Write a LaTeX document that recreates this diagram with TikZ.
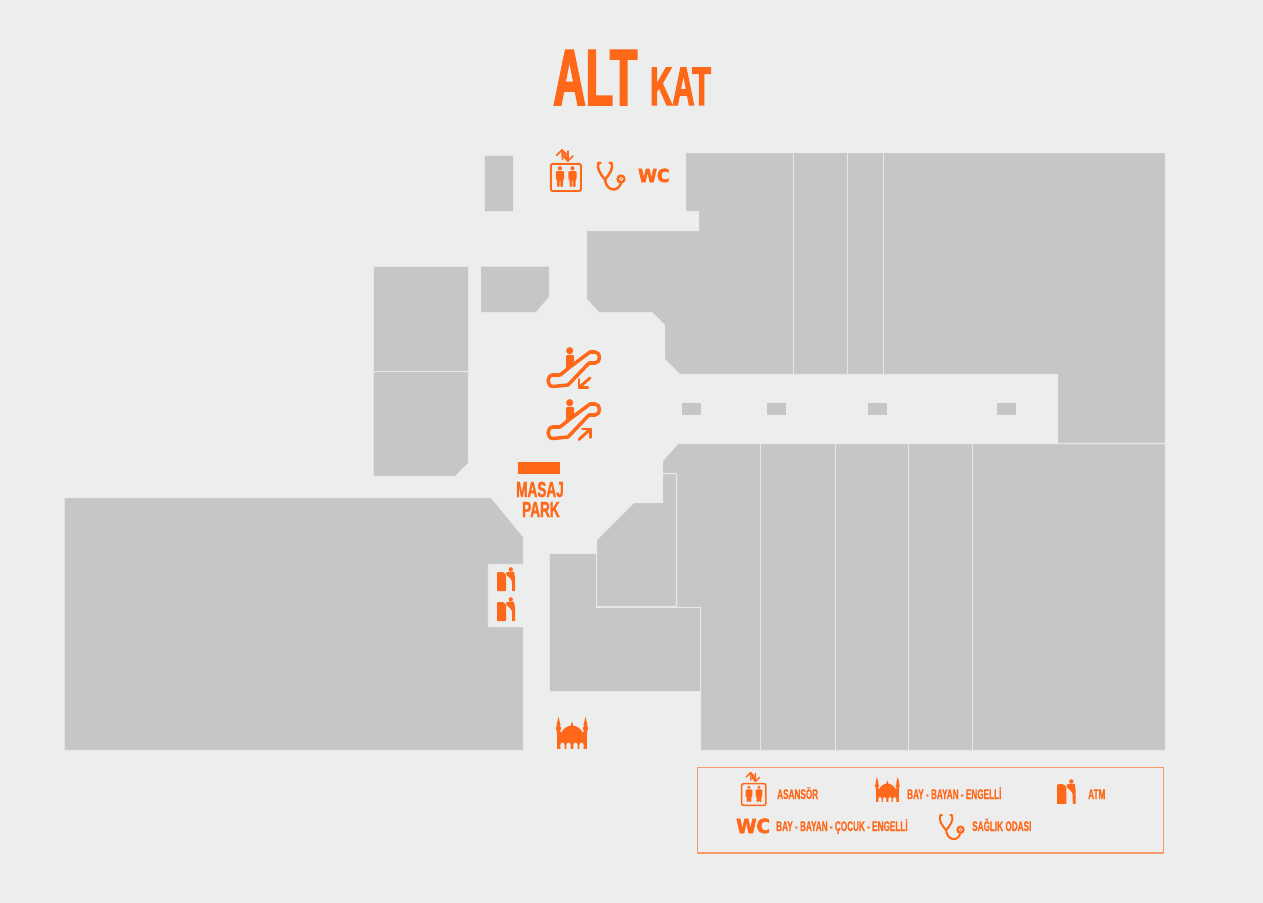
\documentclass[tikz,border=0pt]{standalone}
\usepackage{fontspec}
\setmainfont{Liberation Sans}
\newfontfamily\titlefont[FakeStretch=0.565,FakeBold=2]{Liberation Sans Bold}
\newfontfamily\masajfont[FakeStretch=0.62,FakeBold=1.2]{Liberation Sans Bold}
\newfontfamily\condfont[FakeStretch=0.587,FakeBold=0.5]{Liberation Sans Bold}
\newfontfamily\wcfont[FakeStretch=0.95,FakeBold=3]{DejaVu Sans Bold}
\definecolor{paper}{HTML}{ECEEED}
\definecolor{shop}{HTML}{C5C6C8}
\definecolor{seam}{HTML}{E6E7E8}
\definecolor{orng}{HTML}{FF6819}
\definecolor{legendfill}{HTML}{EDEDED}
\definecolor{legendline}{HTML}{F89A66}
\def\ls{1.3}
\tikzset{
  shopblock/.style={fill=shop,draw=seam,line width=0.3bp},
  seamline/.style={draw=seam,line width=0.9bp},
  kiosk/.style={fill=shop},
  iconline/.style={draw=orng,line width=\ls*#1 bp,line cap=round,line join=round},
  iconfill/.style={fill=orng},
  txt/.style={text=orng,inner sep=0pt,anchor=base west,font=#1},
  elevicon/.pic={
    \draw[iconline=1.5,rounded corners=2bp] (0.8,0.8) rectangle (31,28);
    \foreach \px in {10,22.5}{
      \fill[iconfill] (\px,5.3) circle (2.1);
      \fill[iconfill,rounded corners=1bp] (\px-4.2,8) -- (\px+4.2,8) -- (\px+4.2,16.5) -- (\px+3,16.5) -- (\px+3,24) -- (\px+0.3,24) -- (\px+0.3,17) -- (\px-0.3,17) -- (\px-0.3,24) -- (\px-3,24) -- (\px-3,16.5) -- (\px-4.2,16.5) -- cycle;
    }
    \draw[iconline=1.3] (6.5,-7.5) -- (12,-13) -- (17,-8);
    \draw[iconline=1.3] (12,-13) -- (12.5,-3.5);
    \draw[iconline=1.3] (12,-13) -- (18,-2) -- (18,-12);
    \draw[iconline=1.3] (13.5,-7) -- (18,-2) -- (23,-7);
  },
  stethicon/.pic={
    \draw[iconline=1.9] (4.5,1.8) -- (2.5,1.8) .. controls (0,7) and (5,14) .. (9,18.5) .. controls (13,14) and (18,7) .. (15.5,1.8) -- (13.5,1.8);
    \draw[iconline=1.9] (9,18.5) .. controls (10,30) and (22,32) .. (25,22);
    \fill[iconfill] (25,18) circle (4.7);
    \draw[draw=paper,line width=\ls*0.6 bp] (25,18) circle (1.7);
  },
  atmicon/.pic={
    \fill[iconfill,rounded corners=0.7bp] (0,5.5) -- (1,5) -- (6,5) -- (9,7.5) -- (9,24) -- (0,24) -- cycle;
    \fill[iconfill] (13.8,2.3) circle (2.1);
    \fill[iconfill,rounded corners=0.5bp] (9,5.5) -- (13,4.4) -- (17,4.8) -- (18,11) -- (18,24) -- (15.2,24) -- (14.9,14) -- (13,11) -- (9.8,8.5) -- cycle;
  },
  mosqueicon/.pic={
    \foreach \mx in {2.5,29.5}{
      \fill[iconfill] (\mx,0) -- (\mx+1.8,7) -- (\mx+1.8,10) -- (\mx+2.6,10) -- (\mx+2.6,12) -- (\mx+1.8,13) -- (\mx+1.8,16) -- (\mx-1.8,16) -- (\mx-1.8,13) -- (\mx-2.6,12) -- (\mx-2.6,10) -- (\mx-1.8,10) -- (\mx-1.8,7) -- cycle;
    }
    \fill[iconfill] (16,4.5) -- (17.5,9) -- (14.5,9) -- cycle;
    \fill[iconfill] (4.5,18) .. controls (6,12) and (11,8.5) .. (16,8.5) .. controls (21,8.5) and (26,12) .. (27.5,18) -- cycle;
    \fill[iconfill] (0.7,15) rectangle (31.3,32);
    \foreach \ax in {6.5,12.5,19.5,25.5}{
      \fill[paper] (\ax-2.2,32.2) -- (\ax-2.2,28.5) .. controls (\ax-2.2,26.5) and (\ax-1,26) .. (\ax,25.5) .. controls (\ax+1,26) and (\ax+2.2,26.5) .. (\ax+2.2,28.5) -- (\ax+2.2,32.2) -- cycle;
    }
  },
  escalbase/.pic={
    \draw[iconline=2.7] (23,20) -- (43,5) -- (48,5) .. controls (54,5) and (54,16) .. (48,16) -- (42,16) -- (21,38) -- (6,39.5) .. controls (-0.5,39.5) and (-0.5,28) .. (6,28) -- (13,28) -- cycle;
    \fill[iconfill] (22.7,3.7) circle (3.6);
    \fill[iconfill,rounded corners=1bp] (19,8) -- (27,8) -- (27,15) -- (19,22) -- cycle;
  },
  escaldown/.pic={
    \pic {escalbase};
    \draw[iconline=2.2] (43,31) -- (32,40.5);
    \draw[iconline=2.2] (32,32.5) -- (32,40.5) -- (41,40.5);
  },
  escalup/.pic={
    \pic {escalbase};
    \draw[iconline=2.2] (32,40.5) -- (43.5,30);
    \draw[iconline=2.2] (35.5,30) -- (43.5,30) -- (43.5,38.5);
  }
}
\newcommand{\tsize}[1]{\fontsize{#1}{#1}\selectfont}
\begin{document}
\begin{tikzpicture}[x=1bp,y=-1bp]
\useasboundingbox (0,0) rectangle (1263,903);
\fill[paper] (0,0) rectangle (1263,903);

% shops
\path[shopblock] (484.5,155) rectangle (513,211);
\path[shopblock] (686,153) -- (1165,153) -- (1165,443) -- (1058,443) -- (1058,374) -- (680,374) -- (665,359) -- (665,325) -- (652,312) -- (599,312) -- (587,299) -- (587,231) -- (699,231) -- (699,211) -- (686,211) -- cycle;
\path[shopblock] (373.5,266.5) rectangle (468,371);
\path[shopblock] (373.5,372) -- (468,372) -- (468,463) -- (455,476) -- (373.5,476) -- cycle;
\path[shopblock] (481,266.5) -- (549,266.5) -- (549,297) -- (536,312) -- (481,312) -- cycle;
\path[shopblock] (64.5,498) -- (491,498) -- (523,537) -- (523,564) -- (488,564) -- (488,627) -- (523,627) -- (523,750) -- (64.5,750) -- cycle;
\path[shopblock] (597,540) -- (634,503) -- (663,503) -- (663,474) -- (676,474) -- (676,606) -- (597,606) -- cycle;
\path[shopblock] (663,461) -- (678,444) -- (1165,444) -- (1165,750) -- (701,750) -- (701,607) -- (677,607) -- (677,473) -- (663,473) -- cycle;
\path[shopblock] (549.5,553.5) -- (596,553.5) -- (596,607) -- (700,607) -- (700,691) -- (549.5,691) -- cycle;

% seams
\foreach \sx in {793,847,883}{\draw[seamline] (\sx,153) -- (\sx,374);}
\foreach \sx in {760.5,835.5,908.5,972.5}{\draw[seamline] (\sx,444) -- (\sx,750);}
\draw[seamline] (597,606.5) -- (676,606.5);
\draw[seamline] (663,473.5) -- (676.5,473.5) -- (676.5,607) -- (700.5,607) -- (700.5,691);

% kiosks
\foreach \kx in {682,767,868,997}{\fill[kiosk] (\kx,403) rectangle (\kx+19,415);}

% title
\node[txt=\titlefont\tsize{80}] (alt) at (553,105) {ALT};
\node[txt=\titlefont\tsize{54.5}] (kat) at (650,105) {KAT};

% map icons
\pic at (550,163) {elevicon};
\pic at (596,161) {stethicon};
\node[txt=\wcfont\tsize{18}] (wcmap) at (638,182) {WC};
\pic at (547,347) {escaldown};
\pic at (547,399) {escalup};
\fill[orng] (518,462) rectangle (560,474);
\node[txt=\masajfont\tsize{22}] (masaj) at (516,497) {MASAJ};
\node[txt=\masajfont\tsize{22}] (park) at (522,517) {PARK};
\pic at (497,567) {atmicon};
\pic at (497,597) {atmicon};
\pic at (556,717) {mosqueicon};

% legend
\fill[legendline] (696.9,766.9) rectangle (1164.1,853.6);
\fill[legendfill] (698.1,768.1) rectangle (1162.9,852.4);
\begin{scope}
\def\ls{1.05}
\pic[scale=0.8] at (741,783) {elevicon};
\pic[scale=0.77] at (875,777) {mosqueicon};
\pic[scale=1.04] at (1057,779) {atmicon};
\pic[scale=0.9] at (938,813.5) {stethicon};
\end{scope}
\node[txt=\condfont\tsize{14}] (lasansor) at (777,799) {ASANSÖR};
\node[txt=\condfont\tsize{14}] (lmosque) at (907,799) {BAY - BAYAN - ENGELLİ};
\node[txt=\condfont\tsize{14}] (latm) at (1088,799) {ATM};
\node[txt=\wcfont\tsize{19.5}] (lwc) at (736,833) {WC};
\node[txt=\condfont\tsize{14}] (lwctext) at (776,831) {BAY - BAYAN - ÇOCUK - ENGELLİ};
\node[txt=\condfont\tsize{14}] (lsteth) at (972,831) {SAĞLIK ODASI};
\end{tikzpicture}
\end{document}
